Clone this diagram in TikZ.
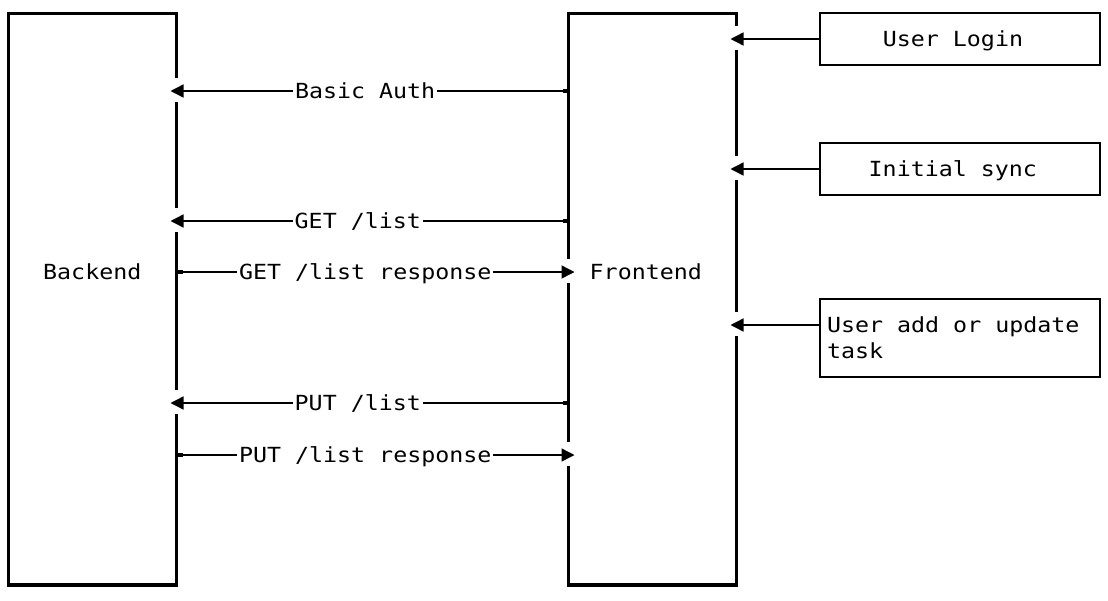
\documentclass[tikz,border=0pt]{standalone}
\usepackage{fontspec}
\newfontfamily\diagfont[FakeStretch=1.12]{DejaVu Sans Mono}
\newcommand\monotext{\diagfont\fontsize{20.8}{26}\selectfont}
\newcommand\fullspace{\spaceskip=0pt\xspaceskip=0pt\relax}
\usetikzlibrary{arrows.meta}

\begin{document}
\begin{tikzpicture}[x=1pt, y=-1pt,
    mono/.style={font=\monotext},
    bigbox/.style={draw, line width=3.5pt, minimum width=168pt, minimum height=571.5pt, outer sep=0pt},
    sidebox/.style={draw, line width=1.5pt, minimum width=280pt, outer sep=0pt, mono, align=left},
    lbl/.style={mono, inner xsep=1.5pt, inner ysep=0pt, text height=15pt, text depth=0pt, anchor=west},
    flow/.style={line width=1.4pt},
    tip/.style={-{Triangle[length=13pt, width=13pt]}},
    nub/.style={{Rectangle[length=6pt, width=4pt]}-}]
    \useasboundingbox (0,0) rectangle (1108,600);

    % boxes
    \node[bigbox] (be) at (92.5,299.25) {};
    \node[bigbox] (fe) at (652.5,299.25) {};
    \node[lbl] (be-txt) at (41.5,272) {Backend};
    \node[lbl] (fe-txt) at (588,272) {Frontend};

    \node[sidebox, minimum height=52pt, inner xsep=62.8pt, text width=154.4pt, text height=15pt, text depth=0pt] (login) at (960,39) {\fullspace User Login};
    \node[sidebox, minimum height=52pt, inner xsep=48.7pt, text width=182.6pt, text height=15pt, text depth=0pt] (sync) at (960,169) {\fullspace Initial sync};
    \node[sidebox, minimum height=78pt, inner xsep=7pt, text width=266pt] (edit) at (960,338) {\fullspace User add or update\\task};

    % ports on the borders
    \coordinate (be-auth) at (176.5,91);
    \coordinate (be-get)  at (176.5,221);
    \coordinate (be-getr) at (176.5,272);
    \coordinate (be-put)  at (176.5,403);
    \coordinate (be-putr) at (176.5,455);
    \coordinate (fe-auth) at (568.5,91);
    \coordinate (fe-get)  at (568.5,221);
    \coordinate (fe-getr) at (568.5,272);
    \coordinate (fe-put)  at (568.5,403);
    \coordinate (fe-putr) at (568.5,455);
    \coordinate (fe-login) at (736.5,39);
    \coordinate (fe-sync)  at (736.5,169);
    \coordinate (fe-edit)  at (736.5,325);

    % gaps where the arrows come in
    \foreach \p in {be-auth, be-get, be-put, fe-getr, fe-putr, fe-login, fe-sync, fe-edit}
        \fill[white] (\p) ++(-3,-13) rectangle ++(6,24);

    % messages
    \node[lbl] (auth) at (293.3,91)  {Basic Auth};
    \node[lbl] (get)  at (293,221)   {GET /list};
    \node[lbl] (getr) at (237.3,272) {GET /list response};
    \node[lbl] (put)  at (293,403)   {PUT /list};
    \node[lbl] (putr) at (237.3,455) {PUT /list response};

    \draw[flow, nub] (fe-auth) -- (auth.east);
    \draw[flow, tip] (auth.west) -- ([xshift=-6]be-auth);
    \draw[flow, nub] (fe-get) -- (get.east);
    \draw[flow, tip] (get.west) -- ([xshift=-6]be-get);
    \draw[flow, nub] (be-getr) -- (getr.west);
    \draw[flow, tip] (getr.east) -- ([xshift=6]fe-getr);
    \draw[flow, nub] (fe-put) -- (put.east);
    \draw[flow, tip] (put.west) -- ([xshift=-6]be-put);
    \draw[flow, nub] (be-putr) -- (putr.west);
    \draw[flow, tip] (putr.east) -- ([xshift=6]fe-putr);

    % user actions
    \draw[flow, tip] (login) -- ([xshift=-6]fe-login);
    \draw[flow, tip] (sync) -- ([xshift=-6]fe-sync);
    \draw[flow, tip] (edit.west |- fe-edit) -- ([xshift=-6]fe-edit);
\end{tikzpicture}
\end{document}
